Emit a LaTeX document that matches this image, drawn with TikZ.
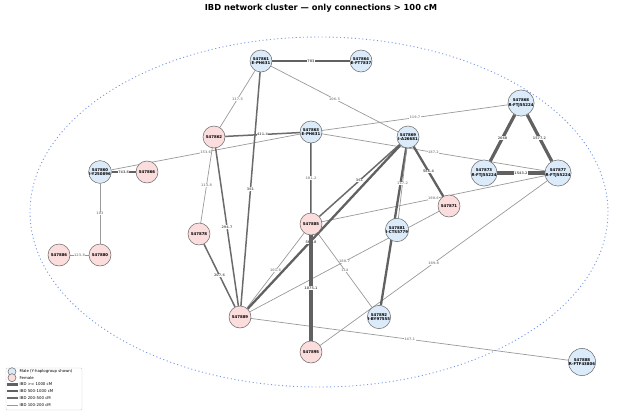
\documentclass[tikz,border=0pt]{standalone}
\usepackage{fontspec}
\setmainfont{DejaVu Sans}
\usetikzlibrary{backgrounds}
\definecolor{malefill}{HTML}{DCEBFA}
\definecolor{femalefill}{HTML}{FCDDDD}
\definecolor{ringblue}{HTML}{7A9AEA}

\begin{document}
\begin{tikzpicture}[x=1pt,y=-1pt,
  male/.style={circle,draw=black!60,line width=0.5pt,fill=malefill,minimum size=22pt,
    inner sep=0pt,align=center,font=\fontsize{3.9}{4.3}\selectfont\bfseries},
  female/.style={male,fill=femalefill},
  elab/.style={fill=white,inner sep=0.4pt,font=\fontsize{3.4}{3.6}\selectfont\bfseries},
  ibdA/.style={line width=3.2pt,black!62},
  ibdB/.style={line width=2.3pt,black!62},
  ibdC/.style={line width=1.5pt,black!58},
  ibdD/.style={line width=0.7pt,black!40},
  legtext/.style={anchor=west,inner sep=0pt,font=\fontsize{3.9}{4.3}\selectfont}]
  \useasboundingbox (0,0) rectangle (640,415);
  \node[font=\fontsize{8.3}{10}\selectfont\bfseries] (title) at (321,8)
    {IBD network cluster — only connections > 100 cM};
  \draw[ringblue,line width=0.9pt,dash pattern=on 1.1pt off 2.6pt]
    (319,212) ellipse [x radius=289pt, y radius=175pt];
  % kits
  \node[male] (n61) at (261,61) {S47861\\E-PH631};
  \node[male] (n64) at (361,61) {S47864\\E-FT7837};
  \node[female] (n62) at (214,137) {S47862};
  \node[male] (n63) at (311,132) {S47863\\E-PH631};
  \node[male] (n69) at (408,137) {S47869\\I-A26681};
  \node[male] (n68) at (521,103) {S47868\\R-FTJ55224};
  \node[male] (n73) at (484,173) {S47873\\R-FTJ55224};
  \node[male] (n77) at (558,173) {S47877\\R-FTJ55224};
  \node[male] (n60) at (100,172) {S47860\\I-Y250896};
  \node[female] (n66) at (147,172) {S47866};
  \node[female] (n86) at (59,255) {S47886};
  \node[female] (n80) at (100,255) {S47880};
  \node[female] (n78) at (199,234) {S47878};
  \node[female] (n85) at (311,224) {S47885};
  \node[female] (n71) at (449,206) {S47871};
  \node[male] (n81) at (397,230) {S47881\\I-CTS5779};
  \node[female] (n89) at (240,317) {S47889};
  \node[male] (n92) at (379,317) {S47892\\I-BY97555};
  \node[female] (n95) at (311,352) {S47895};
  \node[male] (n88) at (582,362) {S47888\\R-FTF43806};
  % shared cM
  \begin{pgfonlayer}{background}
    \draw[ibdD] (n61) -- node[elab] {117.5} (n62);
    \draw[ibdD] (n61) -- node[elab] {106.3} (n69);
    \draw[ibdD] (n60) -- node[elab] {153.6} (n63);
    \draw[ibdD] (n63) -- node[elab] {119.7} (n68);
    \draw[ibdD] (n62) -- node[elab] {113.8} (n78);
    \draw[ibdD] (n63) -- node[elab] {187.2} (n77);
    \draw[ibdD] (n85) -- node[elab] {190.6} (n77);
    \draw[ibdD] (n71) -- node[elab] {188.7} (n89);
    \draw[ibdD] (n85) -- node[elab] {114} (n92);
    \draw[ibdD] (n95) -- node[elab] {189.8} (n77);
    \draw[ibdD] (n89) -- node[elab] {101.8} (n85);
    \draw[ibdD] (n89) -- node[elab] {147.1} (n88);
    \draw[ibdD] (n60) -- node[elab] {103} (n80);
    \draw[ibdD] (n86) -- node[elab] {123.8} (n80);
    \draw[ibdC] (n61) -- node[elab] {361} (n89);
    \draw[ibdC] (n62) -- node[elab] {294.7} (n89);
    \draw[ibdC] (n78) -- node[elab] {207.6} (n89);
    \draw[ibdC] (n69) -- node[elab] {361} (n85);
    \draw[ibdB] (n69) -- (n89);
    \draw[ibdB] (n69) -- (n92);
    \draw[ibdD] (n69) -- node[elab] {117.2} (n81);
    \draw[ibdB] (n63) -- node[elab] {564.8} (n95);
    \draw[ibdD] (n63) -- node[elab] {101.2} (n85);
    \draw[ibdC] (n62) -- node[elab] {411.4} (n63);
    \draw[ibdB] (n69) -- node[elab] {566.4} (n71);
    \draw[ibdB] (n61) -- node[elab] {783} (n64);
    \draw[ibdB] (n60) -- node[elab] {743.6} (n66);
    \draw[ibdA] (n85) -- node[elab] {1075.1} (n95);
    \draw[ibdA] (n68) -- node[elab] {2668} (n73);
    \draw[ibdA] (n68) -- node[elab] {1577.2} (n77);
    \draw[ibdA] (n73) -- node[elab] {1543.2} (n77);
  \end{pgfonlayer}
  % legend
  \draw[black!20,fill=white,rounded corners=1pt] (6,368) rectangle (82,410);
  \node[male,minimum size=8pt] (lmale) at (12,371.7) {};
  \node[legtext] (tmale) at (19.5,371.7) {Male (Y-haplogroup shown)};
  \node[female,minimum size=8pt] (lfemale) at (12,377.7) {};
  \node[legtext] (tfemale) at (19.5,377.7) {Female};
  \draw[ibdA] (7,384.3) -- (18,384.3);
  \node[legtext] (ta) at (19.5,384.3) {IBD >= 1000 cM};
  \draw[ibdB] (7,391.3) -- (18,391.3);
  \node[legtext] (tb) at (19.5,391.3) {IBD 500-1000 cM};
  \draw[ibdC] (7,398) -- (18,398);
  \node[legtext] (tc) at (19.5,398) {IBD 200-500 cM};
  \draw[ibdD] (7,405) -- (18,405);
  \node[legtext] (td) at (19.5,405) {IBD 100-200 cM};
\end{tikzpicture}
\end{document}
